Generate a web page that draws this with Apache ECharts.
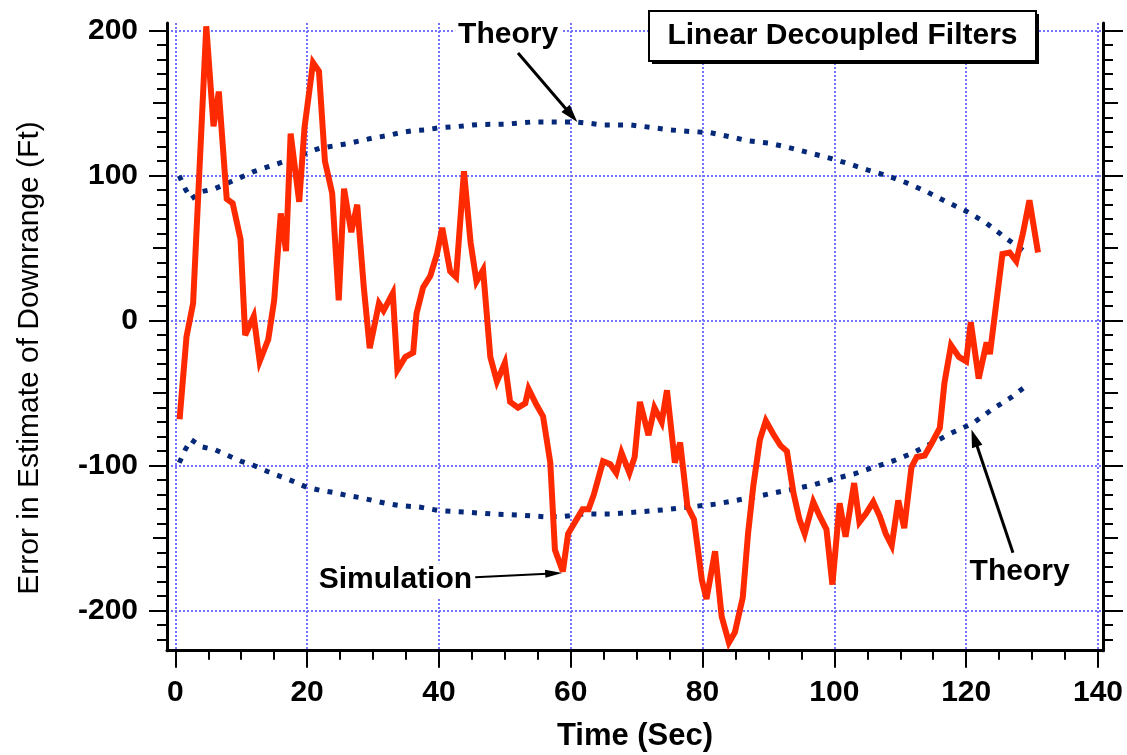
<!DOCTYPE html>
<html>
<head>
<meta charset="utf-8">
<script src="https://cdn.jsdelivr.net/npm/echarts@6/dist/echarts.min.js"></script>
<style>
  html, body { margin: 0; padding: 0; background: #fff; }
  #chart { width: 1127px; height: 755px; }
</style>
</head>
<body>
<div id="chart"></div>
<script>
// ---- data -------------------------------------------------------------
// Simulated downrange estimate error (ft) vs time (s)
const simTime = [0.65,1.7,2.7,4.7,5.8,6.6,7.8,8.7,9.9,10.6,
  11.9,12.8,14.1,15.0,16.0,16.8,17.5,18.8,19.6,20.9,
  21.8,22.7,23.8,24.8,25.6,26.7,27.6,28.6,29.5,30.9,
  31.6,33.0,33.7,34.9,36.1,36.6,37.6,38.7,39.7,40.5,
  41.7,42.6,43.8,44.8,45.7,46.7,47.8,48.8,50.0,50.8,
  52.0,53.1,53.6,54.8,55.8,56.9,57.6,58.8,59.6,60.9,
  61.8,62.7,63.5,64.9,66.0,66.9,67.7,68.9,69.7,70.5,
  71.8,72.7,73.8,74.6,75.8,76.6,77.7,78.7,79.9,80.6,
  81.9,82.9,84.0,84.9,86.1,86.9,87.7,88.7,89.6,90.7,
  91.8,92.8,93.8,94.7,95.5,96.8,97.8,98.8,99.7,100.8,
  101.7,103.0,103.8,104.8,105.9,106.9,107.8,108.7,109.7,110.6,
  111.7,112.5,113.7,114.7,116.0,116.7,117.7,118.9,120.0,120.7,
  121.9,123.1,123.6,125.5,126.6,127.6,128.6,129.6,130.9];
const simValue = [-68,-11,12,203,134,158,84,81,56,-10,
  3,-28,-13,14,74,48,129,82,133,178,
  172,110,88,14,91,61,80,23,-19,12,
  7,19,-34,-25,-22,5,23,31,46,64,
  34,30,103,54,27,35,-25,-42,-29,-56,
  -60,-57,-47,-58,-66,-98,-158,-173,-147,-137,
  -130,-130,-120,-97,-99,-105,-91,-105,-94,-56,
  -79,-60,-70,-48,-98,-84,-128,-137,-179,-192,
  -159,-204,-222,-215,-191,-147,-114,-82,-69,-78,
  -86,-90,-119,-137,-147,-125,-135,-144,-182,-126,
  -149,-112,-139,-133,-125,-135,-147,-155,-124,-143,
  -101,-94,-93,-85,-74,-43,-17,-25,-28,-1,
  -40,-15,-23,46,47,41,60,83,47];

// Theoretical error bounds (+ / -)
const upperTime  = [0.6,1.5,2.4,4,6,8,10,12,14,16,18,20,22,24,26,28,30,32,34,36,38,40,43,46,50,54,58,61,65,69,72,75,78,81,84,87,90,93,96,99,102,105,108,111,114,117,120,123,126,129.1];
const upperValue = [100,91,84,89,91,95,99,103,106,109,112,116,119,120.5,122,124,126,127.5,129.5,131,131.6,133,134,135.3,135.5,137,137,137,135,135,133.4,131.6,130.5,129.8,127,124,122.5,119.5,116,112.5,108.5,104,100,95,89,82,75.5,67.5,57,47];
const lowerTime  = [0.6,1.5,2.4,4,6,8,10,12,14,16,18,20,22,24,26,28,30,32,34,37,40,44,48,52,56,59,62,66,70,74,78,82,85,88,91,94,97,100,103,106,109,112,115,118,121,124,127,129.1];
const lowerValue = [-98,-89,-82,-87,-89,-93,-97,-100,-104,-107.5,-111,-115,-117,-118.5,-120.5,-122,-124,-126,-127.5,-128.5,-131,-132,-133.3,-134,-135.2,-135,-133.3,-133.3,-132,-130.5,-128.5,-126.5,-124,-121.5,-118.6,-116,-113,-109,-105.7,-101,-96.6,-91,-84,-77,-70.8,-61,-52.4,-45];

// Tick positions
const xMajorTicks = [0, 20, 40, 60, 80, 100, 120, 140];
const xMinorTicks = [5,10,15,25,30,35,45,50,55,65,70,75,85,90,95,105,110,115,125,130,135];
const yMajorTicks = [-200, -100, 0, 100, 200];
const yMidTicks   = [-150, -50, 50, 150];
const yMinorTicks = [];
for (let v = -220; v <= 200; v += 10) {
  if (v % 50 !== 0) yMinorTicks.push(v);
}

// ---- chart ------------------------------------------------------------
const FONT = "'Liberation Sans', Arial, Helvetica, sans-serif";
const X_MIN = -1.26, X_MAX = 140.76;
const Y_MIN = -227.6, Y_MAX = 205.3;
const GRID_BLUE = '#7373ff';
const SIM_RED = '#ff2a00';
const THEORY_BLUE = '#062878';

const zip = (a, b) => a.map((t, i) => [t, b[i]]);

// one axis per tick length; all of them sit on the grid edge
function tickAxis(base, ticks, len, extra) {
  return Object.assign({
    type: 'value',
    offset: 0,
    axisLine: { show: false, onZero: false },
    axisLabel: { show: false },
    splitLine: { show: false },
    axisTick: {
      show: true, inside: false, customValues: ticks, length: len,
      lineStyle: { color: '#000', width: 2 }
    }
  }, base, extra || {});
}

const xBase = { min: X_MIN, max: X_MAX, position: 'bottom' };
const yLeft = { min: Y_MIN, max: Y_MAX, position: 'left' };
const yRight = { min: Y_MIN, max: Y_MAX, position: 'right' };

const chart = echarts.init(document.getElementById('chart'), null, { renderer: 'canvas' });

chart.setOption({
  animation: false,
  backgroundColor: '#fff',
  grid: { left: 167, right: 24, top: 23, bottom: 104.3, containLabel: false, outerBoundsMode: 'none' },
  xAxis: [
    tickAxis(xBase, xMajorTicks, 17, {
      axisLine: { show: true, onZero: false, lineStyle: { color: '#000', width: 3 } },
      axisLabel: {
        show: true, customValues: xMajorTicks, margin: 27,
        color: '#000', fontFamily: FONT, fontWeight: 'bold', fontSize: 30
      },
      splitLine: { show: true, lineStyle: { color: GRID_BLUE, width: 2, type: [2, 2] } },
      name: 'Time (Sec)', nameLocation: 'middle', nameGap: 70,
      nameTextStyle: { color: '#000', fontFamily: FONT, fontWeight: 'bold', fontSize: 31 }
    }),
    tickAxis(xBase, xMinorTicks, 9)
  ],
  yAxis: [
    tickAxis(yLeft, yMajorTicks, 18, {
      axisLine: { show: true, onZero: false, lineStyle: { color: '#000', width: 3 } },
      axisLabel: {
        show: true, customValues: yMajorTicks, margin: 29,
        color: '#000', fontFamily: FONT, fontWeight: 'bold', fontSize: 30
      },
      splitLine: { show: true, lineStyle: { color: GRID_BLUE, width: 2, type: [2, 2] } }
    }),
    tickAxis(yLeft, yMidTicks, 14),
    tickAxis(yLeft, yMinorTicks, 10),
    tickAxis(yRight, yMajorTicks, 20, {
      axisLine: { show: true, onZero: false, lineStyle: { color: '#000', width: 3 } }
    }),
    tickAxis(yRight, yMidTicks, 15),
    tickAxis(yRight, yMinorTicks, 10)
  ],
  series: [
    {
      name: 'Theory +', type: 'line', xAxisIndex: 0, yAxisIndex: 0,
      data: zip(upperTime, upperValue), showSymbol: false, smooth: false,
      lineStyle: { color: THEORY_BLUE, width: 5, type: [5, 8.3], cap: 'butt' }, z: 2
    },
    {
      name: 'Theory -', type: 'line', xAxisIndex: 0, yAxisIndex: 0,
      data: zip(lowerTime, lowerValue), showSymbol: false, smooth: false,
      lineStyle: { color: THEORY_BLUE, width: 5, type: [5, 8.3], cap: 'butt' }, z: 2
    },
    {
      name: 'Simulation', type: 'line', xAxisIndex: 0, yAxisIndex: 0,
      data: zip(simTime, simValue), showSymbol: false, clip: false,
      lineStyle: { color: SIM_RED, width: 6, join: 'miter', miterLimit: 4 }, z: 3
    }
  ]
});

// ---- annotations --------------------------------------------------------
const toPx = (p) => chart.convertToPixel({ xAxisIndex: 0, yAxisIndex: 0 }, p);

function arrow(fromData, toData, width, headLen, headW) {
  const a = toPx(fromData), b = toPx(toData);
  const dx = b[0] - a[0], dy = b[1] - a[1];
  const L = Math.hypot(dx, dy);
  const ux = dx / L, uy = dy / L, px = -uy, py = ux;
  const bx = b[0] - ux * headLen, by = b[1] - uy * headLen;
  return [
    { type: 'line', z: 100, shape: { x1: a[0], y1: a[1], x2: bx + ux * 2, y2: by + uy * 2 },
      style: { stroke: '#000', lineWidth: width } },
    { type: 'polygon', z: 100,
      shape: { points: [[b[0], b[1]], [bx + px * headW / 2, by + py * headW / 2], [bx - px * headW / 2, by - py * headW / 2]] },
      style: { fill: '#000' } }
  ];
}

function label(text, atData) {
  const p = toPx(atData);
  return {
    type: 'text', z: 100, x: p[0], y: p[1],
    style: {
      text, align: 'center', verticalAlign: 'middle', fill: '#000',
      font: 'bold 30px ' + FONT, backgroundColor: '#fff', padding: [2, 3]
    }
  };
}

const graphics = [
  label('Theory', [50.5, 197]),
  ...arrow([52, 184.6], [61, 137], 3, 18, 11),
  label('Simulation', [33.4, -179]),
  ...arrow([45.5, -177], [58.7, -174], 2, 17, 8),
  label('Theory', [128.1, -173]),
  ...arrow([127.1, -160], [120.8, -75], 3, 18, 11),
  // boxed title with drop shadow
  { type: 'rect', z: 100, shape: { x: 652, y: 14, width: 387, height: 50 }, style: { fill: '#000' } },
  { type: 'rect', z: 101, shape: { x: 649, y: 11, width: 387, height: 50 },
    style: { fill: '#fff', stroke: '#000', lineWidth: 2 } },
  { type: 'text', z: 102, x: 842.5, y: 36,
    style: { text: 'Linear Decoupled Filters', align: 'center', verticalAlign: 'middle',
      fill: '#000', font: 'bold 30px ' + FONT } },
  // vertical axis title
  { type: 'text', z: 100, x: 30, y: 358, rotation: Math.PI / 2,
    style: { text: 'Error in Estimate of Downrange (Ft)', align: 'center', verticalAlign: 'middle',
      fill: '#000', font: 'normal 30px ' + FONT } }
];

chart.setOption({ graphic: graphics });
</script>
</body>
</html>
